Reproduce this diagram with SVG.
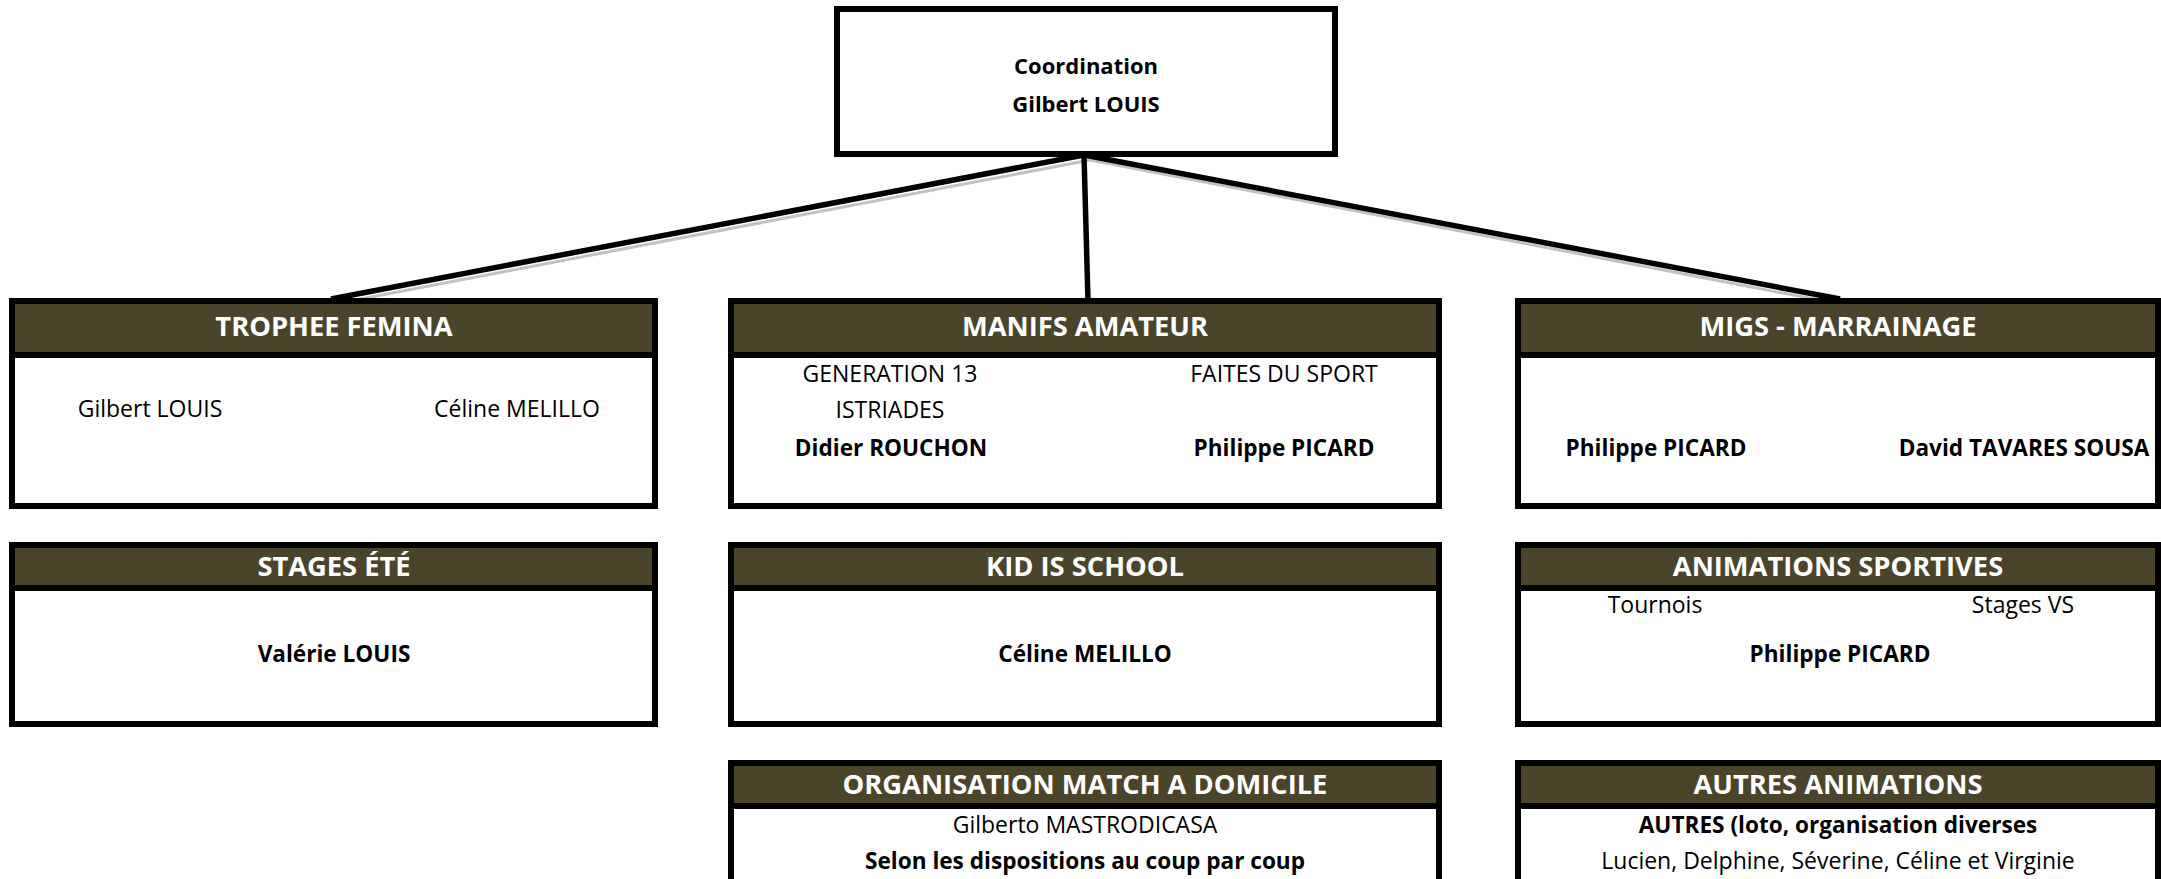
<svg xmlns="http://www.w3.org/2000/svg" width="2161" height="879" viewBox="0 0 2161 879">
<style>
  .bg{fill:#ffffff}
  .box{fill:#ffffff;stroke:#000000;stroke-width:6}
  .band{fill:#4A452A}
  .sep{stroke:#000000;stroke-width:6}
  .conn{stroke:#000000;stroke-width:5.5;stroke-linecap:butt;fill:none}
  .shade{stroke:#9a9a9a;stroke-width:3;fill:none;opacity:0.6}
  text{font-family:"Open Sans","Liberation Sans",sans-serif;fill:#000000}
  .hd{font-size:27.3px;font-weight:bold;fill:#ffffff;text-anchor:middle}
  .rg{font-size:23px;text-anchor:middle}
  .bd{font-size:22.6px;font-weight:bold;text-anchor:middle}
  .cb{font-size:22px;font-weight:bold;text-anchor:middle}
</style>
<rect class="bg" x="0" y="0" width="2161" height="879"/>

<g id="connectors">
  <line class="shade" x1="1090" y1="160" x2="345" y2="302"/>
  <line class="shade" x1="1090" y1="160" x2="1830" y2="302"/>
  <line class="conn" x1="1084" y1="155" x2="331" y2="299"/>
  <line class="conn" x1="1084" y1="155" x2="1088" y2="301"/>
  <line class="conn" x1="1084" y1="155" x2="1840" y2="299"/>
</g>

<g id="coordination">
  <rect class="box" x="837" y="9" width="498" height="145"/>
  <text class="cb" x="1086" y="74">Coordination</text>
  <text class="cb" x="1086" y="112">Gilbert LOUIS</text>
</g>

<g id="trophee-femina">
  <rect class="box" x="12" y="301" width="643" height="205"/>
  <rect class="band" x="15" y="304" width="637" height="48"/>
  <line class="sep" x1="12" y1="355" x2="655" y2="355"/>
  <text class="hd" x="334" y="336">TROPHEE FEMINA</text>
  <text class="rg" x="150" y="417">Gilbert LOUIS</text>
  <text class="rg" x="517" y="417">Céline MELILLO</text>
</g>

<g id="manifs-amateur">
  <rect class="box" x="731" y="301" width="708" height="205"/>
  <rect class="band" x="734" y="304" width="702" height="48"/>
  <line class="sep" x1="731" y1="355" x2="1439" y2="355"/>
  <text class="hd" x="1085" y="336">MANIFS AMATEUR</text>
  <text class="rg" x="890" y="382">GENERATION 13</text>
  <text class="rg" x="890" y="418">ISTRIADES</text>
  <text class="bd" x="891" y="456">Didier ROUCHON</text>
  <text class="rg" x="1284" y="382">FAITES DU SPORT</text>
  <text class="bd" x="1284" y="456">Philippe PICARD</text>
</g>

<g id="migs-marrainage">
  <rect class="box" x="1518" y="301" width="640" height="205"/>
  <rect class="band" x="1521" y="304" width="634" height="48"/>
  <line class="sep" x1="1518" y1="355" x2="2158" y2="355"/>
  <text class="hd" x="1838" y="336">MIGS - MARRAINAGE</text>
  <text class="bd" x="1656" y="456">Philippe PICARD</text>
  <text class="bd" x="2024" y="456">David TAVARES SOUSA</text>
</g>

<g id="stages-ete">
  <rect class="box" x="12" y="545" width="643" height="179"/>
  <rect class="band" x="15" y="548" width="637" height="37"/>
  <line class="sep" x1="12" y1="588" x2="655" y2="588"/>
  <text class="hd" x="334" y="576">STAGES ÉTÉ</text>
  <text class="bd" x="334" y="662">Valérie LOUIS</text>
</g>

<g id="kid-is-school">
  <rect class="box" x="731" y="545" width="708" height="179"/>
  <rect class="band" x="734" y="548" width="702" height="37"/>
  <line class="sep" x1="731" y1="588" x2="1439" y2="588"/>
  <text class="hd" x="1085" y="576">KID IS SCHOOL</text>
  <text class="bd" x="1085" y="662">Céline MELILLO</text>
</g>

<g id="animations-sportives">
  <rect class="box" x="1518" y="545" width="640" height="179"/>
  <rect class="band" x="1521" y="548" width="634" height="37"/>
  <line class="sep" x1="1518" y1="588" x2="2158" y2="588"/>
  <text class="hd" x="1838" y="576">ANIMATIONS SPORTIVES</text>
  <text class="rg" x="1655" y="613">Tournois</text>
  <text class="rg" x="2023" y="613">Stages VS</text>
  <text class="bd" x="1840" y="662">Philippe PICARD</text>
</g>

<g id="organisation-match">
  <rect class="box" x="731" y="763" width="708" height="200"/>
  <rect class="band" x="734" y="766" width="702" height="37"/>
  <line class="sep" x1="731" y1="806" x2="1439" y2="806"/>
  <text class="hd" x="1085" y="794">ORGANISATION MATCH A DOMICILE</text>
  <text class="rg" x="1085" y="833">Gilberto MASTRODICASA</text>
  <text class="bd" x="1085" y="869">Selon les dispositions au coup par coup</text>
</g>

<g id="autres-animations">
  <rect class="box" x="1518" y="763" width="640" height="200"/>
  <rect class="band" x="1521" y="766" width="634" height="37"/>
  <line class="sep" x1="1518" y1="806" x2="2158" y2="806"/>
  <text class="hd" x="1838" y="794">AUTRES ANIMATIONS</text>
  <text class="bd" x="1838" y="833">AUTRES (loto, organisation diverses</text>
  <text class="rg" x="1838" y="869">Lucien, Delphine, Séverine, Céline et Virginie</text>
</g>
</svg>
